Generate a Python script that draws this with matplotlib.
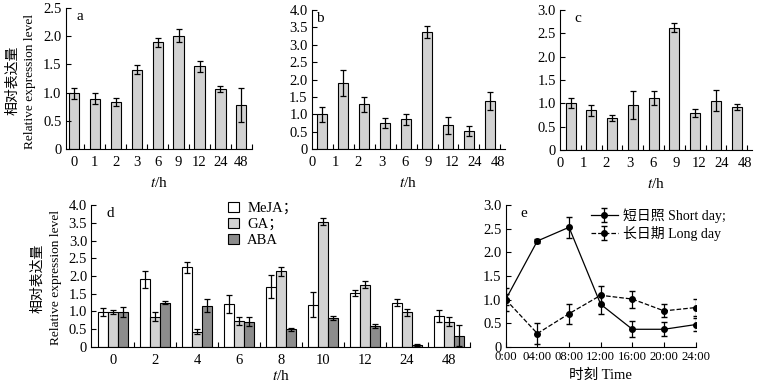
import numpy as np
import matplotlib
matplotlib.use("Agg")
import matplotlib.pyplot as plt
from matplotlib.ticker import FixedLocator

plt.rcParams['font.family'] = ['Liberation Serif', 'Noto Sans CJK SC']
plt.rcParams['mathtext.fontset'] = 'stix'
plt.rcParams['font.size'] = 10

# --------------------------------------------------
# data
# --------------------------------------------------

hours = ["0", "1", "2", "3", "6", "9", "12", "24", "48"]

a_vals = [0.99, 0.89, 0.83, 1.41, 1.89, 2.01, 1.47, 1.06, 0.78]
a_err = [0.10, 0.10, 0.07, 0.08, 0.08, 0.12, 0.10, 0.05, 0.30]

b_vals = [1.00, 1.89, 1.29, 0.75, 0.86, 3.37, 0.68, 0.52, 1.38]
b_err = [0.22, 0.37, 0.22, 0.15, 0.16, 0.18, 0.24, 0.14, 0.26]

c_vals = [1.01, 0.85, 0.69, 0.97, 1.11, 2.62, 0.80, 1.06, 0.93]
c_err = [0.10, 0.12, 0.06, 0.30, 0.15, 0.10, 0.08, 0.23, 0.06]

d_hours = ["0", "2", "4", "6", "8", "10", "12", "24", "48"]
meja = [0.98, 1.90, 2.24, 1.20, 1.70, 1.19, 1.51, 1.24, 0.87]
meja_err = [0.12, 0.25, 0.15, 0.25, 0.32, 0.35, 0.08, 0.10, 0.17]
ga = [0.98, 0.85, 0.43, 0.73, 2.13, 3.53, 1.75, 0.98, 0.71]
ga_err = [0.05, 0.13, 0.08, 0.12, 0.12, 0.10, 0.10, 0.10, 0.12]
aba = [0.98, 1.24, 1.16, 0.71, 0.49, 0.81, 0.59, 0.05, 0.31]
aba_err = [0.15, 0.04, 0.18, 0.12, 0.05, 0.05, 0.06, 0.03, 0.30]

e_time = [0, 4, 8, 12, 16, 20, 24]
e_labels = ["0:00", "04:00", "08:00", "12:00", "16:00", "20:00", "24:00"]
short_day = [1.00, 2.24, 2.53, 0.90, 0.37, 0.37, 0.47]
short_err = [0.25, 0.05, 0.22, 0.20, 0.17, 0.15, 0.13]
long_day = [1.00, 0.28, 0.70, 1.09, 1.01, 0.76, 0.83]
long_err = [0.12, 0.22, 0.21, 0.20, 0.18, 0.14, 0.18]

BAR_GREY = "#d2d2d2"
ERR_KW = dict(ecolor="black", elinewidth=0.9, capsize=2.5, capthick=0.9)


def style_axes(ax):
    ax.spines['top'].set_visible(False)
    ax.spines['right'].set_visible(False)
    ax.tick_params(axis='both', which='both', direction='in', length=3.5,
                   width=0.8, labelsize=10.5, pad=3)


def fmt_y(v):
    return "0" if v == 0 else f"{v:.1f}"


def bar_panel(ax, vals, err, ymax, letter, letter_x, label_shift):
    x = np.arange(len(vals))
    ax.bar(x, vals, width=0.48, color=BAR_GREY, edgecolor="black",
           linewidth=0.8, yerr=err, error_kw=ERR_KW)
    style_axes(ax)
    ax.set_ylim(0, ymax)
    yt = np.arange(0, ymax + 0.01, 0.5)
    ax.set_yticks(yt)
    ax.set_yticklabels([fmt_y(v) for v in yt])
    if label_shift:
        # labels in b and c sit evenly along the axis, not under the bars
        ax.set_xlim(-0.48, 8.72)
        ax.set_xticks(np.linspace(-0.5, 8.4, len(vals)))
    else:
        ax.set_xlim(-0.38, 8.5)
        ax.set_xticks(x)
    ax.set_xticklabels(hours)
    ax.tick_params(axis='x', which='major', length=0, pad=5)
    ax.xaxis.set_minor_locator(FixedLocator(np.arange(0.5, 8.6, 1.0)))
    ax.set_xlabel("$t$/h", fontsize=11, labelpad=5)
    ax.text(letter_x, 0.985, letter, transform=ax.transAxes, fontsize=11,
            va='top')


fig = plt.figure(figsize=(7.57, 3.87), dpi=100)

ax_a = fig.add_axes([0.0868, 0.615, 0.246, 0.364])
ax_b = fig.add_axes([0.412, 0.615, 0.255, 0.359])
ax_c = fig.add_axes([0.740, 0.612, 0.253, 0.362])
ax_d = fig.add_axes([0.1206, 0.104, 0.500, 0.366])
ax_e = fig.add_axes([0.668, 0.104, 0.251, 0.366])

bar_panel(ax_a, a_vals, a_err, 2.5, "a", 0.06, False)
bar_panel(ax_b, b_vals, b_err, 4.0, "b", 0.02, True)
bar_panel(ax_c, c_vals, c_err, 3.0, "c", 0.073, True)

# --------------------------------------------------
# panel d: hormone treatments
# --------------------------------------------------
xd = np.arange(len(d_hours))
w = 0.235
ax_d.bar(xd - w, meja, width=w, color="white", edgecolor="black",
         linewidth=0.8, yerr=meja_err, error_kw=ERR_KW, label="MeJA；")
ax_d.bar(xd, ga, width=w, color=BAR_GREY, edgecolor="black",
         linewidth=0.8, yerr=ga_err, error_kw=ERR_KW, label="GA；")
ax_d.bar(xd + w, aba, width=w, color="#8c8c8c", edgecolor="black",
         linewidth=0.8, yerr=aba_err, error_kw=ERR_KW, label="ABA")
style_axes(ax_d)
ax_d.set_ylim(0, 4.0)
yt = np.arange(0, 4.01, 0.5)
ax_d.set_yticks(yt)
ax_d.set_yticklabels([fmt_y(v) for v in yt])
ax_d.set_xlim(-0.52, 8.5)
ax_d.set_xticks(xd)
ax_d.set_xticklabels(d_hours)
ax_d.tick_params(axis='x', which='major', length=0, pad=5)
ax_d.xaxis.set_minor_locator(FixedLocator(np.arange(0.5, 8.6, 1.0)))
ax_d.set_xlabel("$t$/h", fontsize=11, labelpad=2)
ax_d.text(0.039, 0.985, "d", transform=ax_d.transAxes, fontsize=11, va='top')
ax_d.legend(loc='upper left', bbox_to_anchor=(0.362, 1.025), frameon=False,
            fontsize=10.5, handlelength=0.75, handleheight=0.75,
            handletextpad=0.55, labelspacing=0.18, borderaxespad=0,
            borderpad=0)

# --------------------------------------------------
# panel e: photoperiod
# --------------------------------------------------
ax_e.errorbar(e_time, short_day, yerr=short_err, color="black", lw=0.9,
              marker='o', ms=4, capsize=2.5, elinewidth=0.9,
              label="短日照 Short day;")
ax_e.errorbar(e_time, long_day, yerr=long_err, color="black", lw=0.9,
              ls='--', marker='o', ms=4, capsize=2.5, elinewidth=0.9,
              label="长日期 Long day")
style_axes(ax_e)
ax_e.set_xlim(0, 24)
ax_e.set_ylim(0, 3.0)
yt = np.arange(0, 3.01, 0.5)
ax_e.set_yticks(yt)
ax_e.set_yticklabels([fmt_y(v) for v in yt])
ax_e.set_xticks(e_time)
ax_e.set_xticklabels(e_labels)
ax_e.tick_params(axis='x', labelsize=9.2)
ax_e.set_xlabel("时刻 Time", fontsize=10.5, labelpad=4)
ax_e.text(0.079, 0.985, "e", transform=ax_e.transAxes, fontsize=11, va='top')
ax_e.legend(loc='upper left', bbox_to_anchor=(0.45, 0.975), frameon=False,
            fontsize=10, handlelength=1.9, handletextpad=0.4,
            labelspacing=0.2, borderaxespad=0, borderpad=0)

# --------------------------------------------------
# shared y labels
# --------------------------------------------------
fig.text(0.016, 0.792, "相对表达量", rotation=90, ha='center', va='center',
         fontsize=10)
fig.text(0.040, 0.789, "Relative expression level", rotation=90,
         ha='center', va='center', fontsize=9.6)
fig.text(0.050, 0.280, "相对表达量", rotation=90, ha='center', va='center',
         fontsize=10)
fig.text(0.074, 0.284, "Relative expression level", rotation=90,
         ha='center', va='center', fontsize=9.6)

fig.savefig("out.png", dpi=100)
